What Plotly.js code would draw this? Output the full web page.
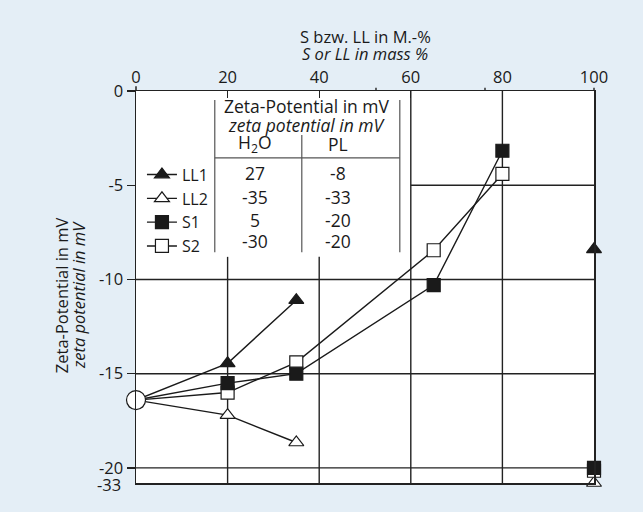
<!DOCTYPE html>
<html><head><meta charset="utf-8">
<script src="https://cdn.plot.ly/plotly-3.0.1.min.js"></script>
<style>html,body{margin:0;padding:0;background:#e4eef6;}</style>
</head><body><div id="chart" style="width:643px;height:512px;"></div>
<script>
// ---- data ----
const originX = 0;
const originY = -16.4;
const names = ["LL1", "LL2", "S1", "S2"];
const llX = [20, 35];
const sX = [20, 35, 65, 80];
const ll1Y = [-14.45, -11.1];
const ll2Y = [-17.2, -18.65];
const s1Y = [-15.5, -15.0, -10.3, -3.17];
const s2Y = [-16.0, -14.4, -8.45, -4.4];
const plX = 100;
const plY = { LL1: -8.4, LL2: -20.8, S1: -20.0, S2: -20.15 };
const tableH2O = ["27", "-35", "5", "-30"];
const tablePL = ["-8", "-33", "-20", "-20"];
const xTicks = [0, 20, 40, 60, 80, 100];
const yTicks = [0, -5, -10, -15, -20];
const yBreakLabel = "-33";

const F = "Open Sans, Noto Sans, sans-serif";
const ink = "#1a1a1a";

const sym = {
  LL1: { symbol: "triangle-up", color: ink },
  LL2: { symbol: "triangle-up", color: "white" },
  S1: { symbol: "square", color: ink },
  S2: { symbol: "square", color: "white" }
};
const seriesX = { LL1: llX, LL2: llX, S1: sX, S2: sX };
const seriesY = { LL1: ll1Y, LL2: ll2Y, S1: s1Y, S2: s2Y };

const traces = [];
const drawOrder = ["LL2", "LL1", "S2", "S1"];
drawOrder.forEach(n => {
  traces.push({
    type: "scatter", mode: "lines+markers", name: n,
    legendrank: names.indexOf(n) + 1,
    x: [originX].concat(seriesX[n]), y: [originY].concat(seriesY[n]),
    line: { color: ink, width: 1.4 },
    marker: { symbol: sym[n].symbol, size: 13, color: sym[n].color, line: { color: ink, width: 1.2 } },
    cliponaxis: false
  });
});
drawOrder.forEach(n => {
  traces.push({
    type: "scatter", mode: "markers", showlegend: false,
    x: [plX], y: [plY[n]],
    marker: { symbol: sym[n].symbol, size: 13, color: sym[n].color, line: { color: ink, width: 1.2 } },
    cliponaxis: false
  });
});
traces.push({
  type: "scatter", mode: "markers", showlegend: false,
  x: [originX], y: [originY],
  marker: { symbol: "circle", size: 19, color: "white", line: { color: ink, width: 1.2 } },
  cliponaxis: false
});

const gl = { color: "#222", width: 1.4 };
const tl = { color: "#555", width: 1.2 };
const shapes = [
  { type: "line", x0: 20, x1: 20, y0: -8.8, y1: -20.8, line: gl, layer: "below" },
  { type: "line", x0: 40, x1: 40, y0: -8.8, y1: -20.8, line: gl, layer: "below" },
  { type: "line", x0: 60, x1: 60, y0: 0, y1: -20.8, line: gl, layer: "below" },
  { type: "line", x0: 80, x1: 80, y0: 0, y1: -20.8, line: gl, layer: "below" },
  { type: "line", x0: 60, x1: 100, y0: -5, y1: -5, line: gl, layer: "below" },
  { type: "line", x0: 0, x1: 100, y0: -10, y1: -10, line: gl, layer: "below" },
  { type: "line", x0: 0, x1: 100, y0: -15, y1: -15, line: gl, layer: "below" },
  { type: "line", x0: 0, x1: 100, y0: -20, y1: -20, line: gl, layer: "below" },
  // axis cross extensions above the top line
  { type: "line", xref: "paper", yref: "paper", x0: 0, x1: 0, y0: 1, y1: 1.012, line: { color: "#222", width: 1.5 } },
  { type: "line", xref: "paper", yref: "paper", x0: 0.5240, x1: 0.5240, y0: 1, y1: 1.008, line: gl },
  { type: "line", xref: "paper", yref: "paper", x0: 0.7620, x1: 0.7620, y0: 1, y1: 1.008, line: gl },
  { type: "line", xref: "paper", yref: "paper", x0: 1, x1: 1, y0: 1, y1: 1.008, line: gl },
  // table frame
  { type: "line", x0: 17.2, x1: 17.2, y0: -0.48, y1: -8.55, line: tl },
  { type: "line", x0: 36.2, x1: 36.2, y0: -2.33, y1: -8.55, line: tl },
  { type: "line", x0: 57.6, x1: 57.6, y0: -0.48, y1: -8.55, line: tl },
  { type: "line", x0: 17.2, x1: 57.6, y0: -3.55, y1: -3.55, line: tl }
];

const af = { family: F, size: 17.5, color: ink };
const tf = { family: F, size: 16.5, color: ink };
const annotations = [
  { x: 37.4, y: -0.8, text: "Zeta-Potential in mV", showarrow: false, font: af },
  { x: 37.4, y: -1.78, text: "<i>zeta potential in mV</i>", showarrow: false, font: af },
  { x: 26.0, y: -2.8, text: "H<sub>2</sub>O", showarrow: false, font: af },
  { x: 44.1, y: -2.8, text: "PL", showarrow: false, font: af },
  { xref: "paper", yref: "paper", x: -0.028, y: -0.005, xanchor: "right", yanchor: "middle",
    text: yBreakLabel, showarrow: false, font: { family: F, size: 16.5, color: ink } },
  // axis titles
  { xref: "paper", yref: "paper", x: 0.5, y: 1.14, xanchor: "center", yanchor: "middle",
    text: "S bzw. LL in M.-%", showarrow: false, font: tf },
  { xref: "paper", yref: "paper", x: 0.5, y: 1.095, xanchor: "center", yanchor: "middle",
    text: "<i>S or LL in mass %</i>", showarrow: false, font: tf },
  { xref: "paper", yref: "paper", x: -0.163, y: 0.48, xanchor: "center", yanchor: "middle", textangle: -90,
    text: "Zeta-Potential in mV", showarrow: false, font: tf },
  { xref: "paper", yref: "paper", x: -0.124, y: 0.48, xanchor: "center", yanchor: "middle", textangle: -90,
    text: "<i>zeta potential in mV</i>", showarrow: false, font: tf }
];
const rowY = [-4.35, -5.62, -6.84, -7.96];
names.forEach((n, i) => {
  annotations.push({ x: 26.0, y: rowY[i], text: tableH2O[i], showarrow: false, font: af });
  annotations.push({ x: 44.1, y: rowY[i], text: tablePL[i], showarrow: false, font: af });
});

const layout = {
  width: 643, height: 512,
  margin: { l: 136, r: 49, t: 91, b: 29, pad: 0 },
  paper_bgcolor: "#e4eef6", plot_bgcolor: "white",
  font: { family: F, size: 16.5, color: ink },
  showlegend: true,
  legend: { x: 0.013, y: 0.83, xanchor: "left", yanchor: "top", bgcolor: "rgba(0,0,0,0)",
            font: { family: F, size: 16, color: ink }, traceorder: "normal", tracegroupgap: 0 },
  xaxis: {
    side: "top", range: [0, 100], tickvals: xTicks, ticktext: xTicks.map(String),
    ticks: "inside", ticklen: 7, tickwidth: 1.4, tickcolor: "#222",
    showline: true, linecolor: "#222", linewidth: 1.5, mirror: true,
    showgrid: false, zeroline: false, tickfont: { family: F, size: 16.5, color: ink }
  },
  yaxis: {
    range: [-20.8, 0], tickvals: yTicks, ticktext: yTicks.map(String),
    ticks: "outside", ticklen: 8, tickwidth: 1.4, tickcolor: "#222",
    showline: true, linecolor: "#222", linewidth: 1.5, mirror: true,
    showgrid: false, zeroline: false, tickfont: { family: F, size: 16.5, color: ink }
  },
  shapes: shapes,
  annotations: annotations
};

Plotly.newPlot("chart", traces, layout, { displayModeBar: false, staticPlot: true });
</script></body></html>
